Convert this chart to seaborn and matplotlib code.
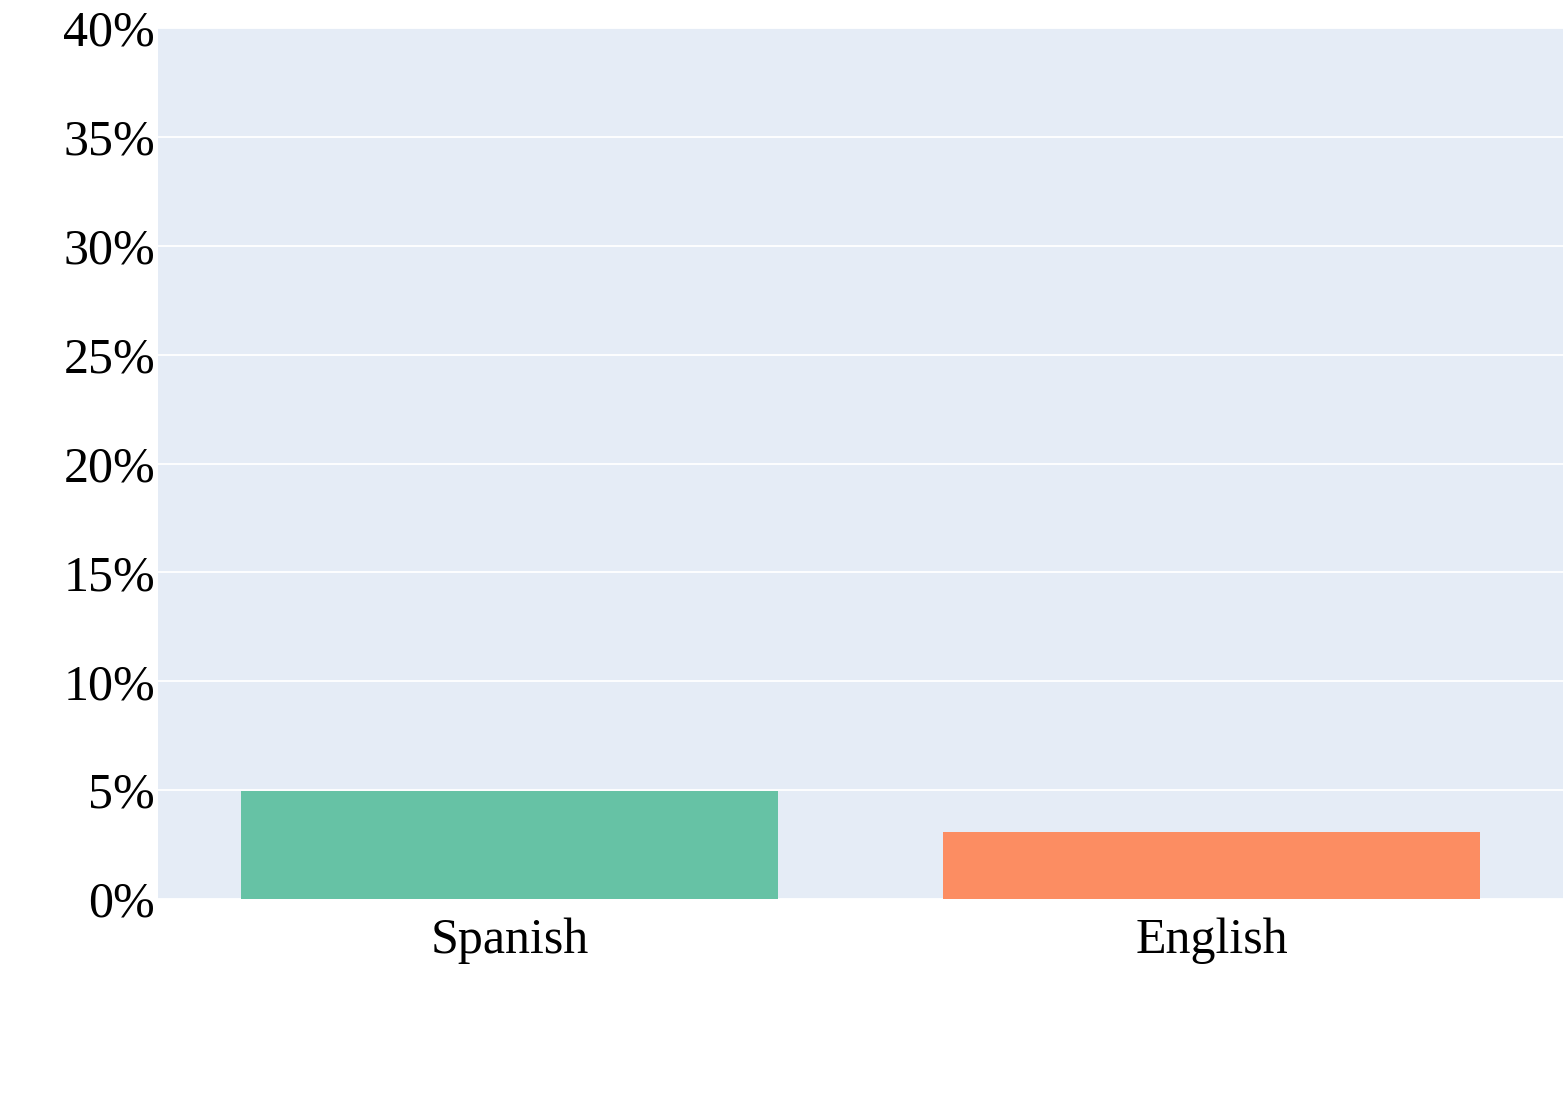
import matplotlib
matplotlib.use("Agg")
import matplotlib.pyplot as plt
import seaborn as sns
import pandas as pd
from matplotlib.ticker import PercentFormatter, MultipleLocator

languages = ["Spanish", "English"]
shares = [0.0497, 0.0308]
colors = ["#66c2a5", "#fc8d62"]

sns.set_style("white")
plt.rcParams["font.family"] = ["Liberation Serif", "DejaVu Serif"]

df = pd.DataFrame({"language": languages, "share": shares})

fig = plt.figure(figsize=(15.63, 10.94), dpi=100)
ax = fig.add_axes([158/1563, 1-899/1094, 1-158/1563, (899-28)/1094])
ax.set_facecolor("#E5ECF6")

sns.barplot(data=df, x="language", y="share", hue="language",
            palette=colors, width=0.765, saturation=1, legend=False, ax=ax,
            linewidth=0, zorder=3)

ax.set_ylim(0, 0.40)
ax.set_xlim(-0.5, 1.5)
ax.yaxis.set_major_locator(MultipleLocator(0.05))
ax.yaxis.set_major_formatter(PercentFormatter(1.0, decimals=0))
ax.grid(axis="y", color="white", linewidth=1.3, zorder=0)
ax.set_axisbelow(True)
for s in ax.spines.values():
    s.set_visible(False)
ax.tick_params(axis="both", length=0, labelsize=36, labelcolor="black")
ax.tick_params(axis="y", pad=2)
ax.tick_params(axis="x", pad=13)
ax.set_xlabel("")
ax.set_ylabel("")

fig.savefig("out.png", dpi=100)
